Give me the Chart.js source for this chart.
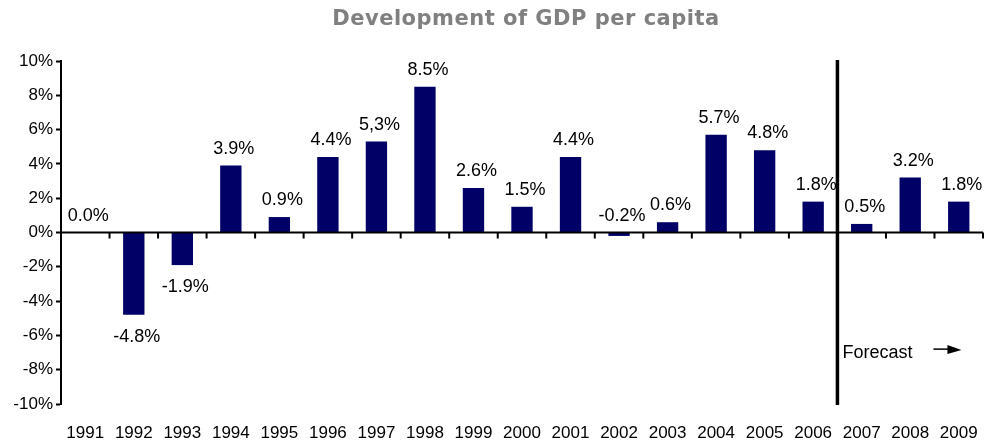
<!DOCTYPE html>
<html>
<head>
<meta charset="utf-8">
<script src="https://cdn.jsdelivr.net/npm/chart.js@4"></script>
<style>
  html, body { margin: 0; padding: 0; background: #fff; }
  #wrap { width: 997px; height: 441px; position: relative; }
</style>
</head>
<body>
<div id="wrap"><canvas id="gdp-chart"></canvas></div>
<script>
const years = ['1991', '1992', '1993', '1994', '1995', '1996', '1997', '1998', '1999', '2000',
  '2001', '2002', '2003', '2004', '2005', '2006', '2007', '2008', '2009'];
const growth = [0.0, -4.8, -1.9, 3.9, 0.9, 4.4, 5.3, 8.5, 2.6, 1.5,
  4.4, -0.2, 0.6, 5.7, 4.8, 1.8, 0.5, 3.2, 1.8];
const growthLabels = ['0.0%', '-4.8%', '-1.9%', '3.9%', '0.9%', '4.4%', '5,3%', '8.5%', '2.6%', '1.5%',
  '4.4%', '-0.2%', '0.6%', '5.7%', '4.8%', '1.8%', '0.5%', '3.2%', '1.8%'];
const firstForecastYear = '2007';
const chartTitle = 'Development of GDP per capita';

const FONT = "'Liberation Sans', Arial, sans-serif";

// wide bold title over the plot area
const wideTitle = {
  id: 'wideTitle',
  afterDraw(chart) {
    const ctx = chart.ctx;
    const area = chart.chartArea;
    ctx.save();
    ctx.font = "bold 21px 'DejaVu Sans', Verdana, sans-serif";
    ctx.letterSpacing = '0.5px';
    ctx.fillStyle = '#808080';
    ctx.textAlign = 'left';
    ctx.textBaseline = 'middle';
    const w = ctx.measureText(chartTitle).width;
    ctx.fillText(chartTitle, (area.left + area.right) / 2 + 4 - w / 2, 20);
    ctx.restore();
  }
};

// zero axis with tick marks between years, the forecast divider and the value labels
const decorations = {
  id: 'decorations',
  afterDatasetsDraw(chart) {
    const ctx = chart.ctx;
    const x = chart.scales.x;
    const y = chart.scales.y;
    const area = chart.chartArea;
    const y0 = y.getPixelForValue(0);
    const step = x.getPixelForValue(1) - x.getPixelForValue(0);

    ctx.save();
    ctx.strokeStyle = '#000';
    ctx.lineWidth = 2;
    ctx.beginPath();
    ctx.moveTo(area.left, y0);
    ctx.lineTo(area.right, y0);
    for (let i = 0; i <= years.length; i++) {
      const bx = x.getPixelForValue(0) - step / 2 + i * step;
      ctx.moveTo(bx, y0);
      ctx.lineTo(bx, y0 + 6);
    }
    ctx.stroke();

    // forecast divider
    const fi = years.indexOf(firstForecastYear);
    const fx = x.getPixelForValue(fi) - step / 2;
    ctx.lineWidth = 3.5;
    ctx.beginPath();
    ctx.moveTo(fx, area.top - 1);
    ctx.lineTo(fx, area.bottom + 1);
    ctx.stroke();

    ctx.fillStyle = '#000';
    ctx.font = '18px ' + FONT;
    ctx.textAlign = 'left';
    ctx.textBaseline = 'middle';
    ctx.fillText('Forecast', fx + 5, y.getPixelForValue(-7.0));

    // arrow
    const ay = y.getPixelForValue(-6.8);
    ctx.lineWidth = 1.5;
    ctx.beginPath();
    ctx.moveTo(fx + 96, ay);
    ctx.lineTo(fx + 112, ay);
    ctx.stroke();
    ctx.beginPath();
    ctx.moveTo(fx + 110, ay - 4);
    ctx.lineTo(fx + 124, ay + 1);
    ctx.lineTo(fx + 110, ay + 5);
    ctx.closePath();
    ctx.fill();

    // value labels
    ctx.font = '18px ' + FONT;
    ctx.textAlign = 'center';
    const meta = chart.getDatasetMeta(0);
    meta.data.forEach((bar, i) => {
      const v = growth[i];
      if (v < -0.5) {
        ctx.textBaseline = 'top';
        ctx.fillText(growthLabels[i], bar.x + 3, bar.y + 13);
      } else {
        ctx.textBaseline = 'alphabetic';
        ctx.fillText(growthLabels[i], bar.x + 3, Math.min(bar.y, y0) - 12);
      }
    });
    ctx.restore();
  }
};

new Chart(document.getElementById('gdp-chart'), {
  type: 'bar',
  data: {
    labels: years,
    datasets: [{
      data: growth,
      backgroundColor: '#000066',
      barPercentage: 0.44,
      categoryPercentage: 1
    }]
  },
  options: {
    responsive: true,
    maintainAspectRatio: false,
    animation: false,
    layout: { padding: { left: 0, right: 13, top: 61, bottom: 0 } },
    plugins: {
      legend: { display: false },
      tooltip: { enabled: false },
      title: { display: false }
    },
    scales: {
      x: {
        grid: { display: false, drawTicks: false },
        border: { display: false },
        ticks: { color: '#000', font: { family: FONT, size: 17 }, padding: 19, maxRotation: 0, autoSkip: false },
        afterFit(scale) { scale.height = 37; }
      },
      y: {
        min: -10,
        max: 10,
        grid: { drawOnChartArea: false, drawTicks: true, tickLength: 5, tickColor: '#000', tickWidth: 2 },
        border: { display: true, color: '#000', width: 2 },
        ticks: {
          stepSize: 2,
          padding: 3,
          color: '#000',
          font: { family: FONT, size: 17 },
          callback: v => v + '%'
        },
        afterFit(scale) { scale.width = 61; }
      }
    }
  },
  plugins: [decorations, wideTitle]
});
</script>
</body>
</html>
